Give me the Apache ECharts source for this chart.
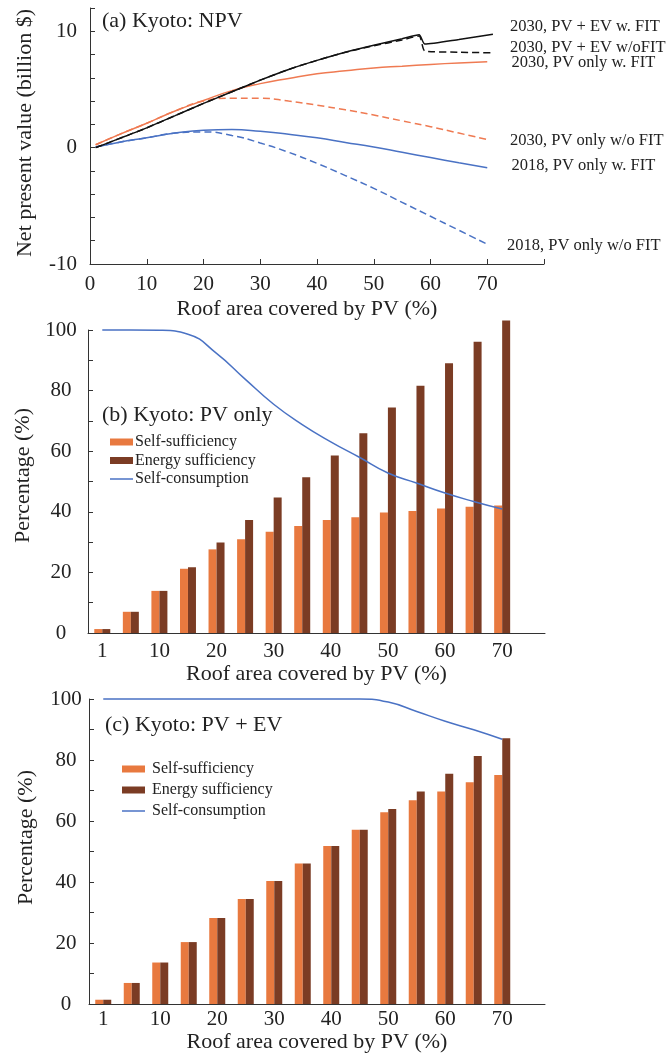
<!DOCTYPE html>
<html>
<head>
<meta charset="utf-8">
<script src="https://cdn.jsdelivr.net/npm/echarts@6/dist/echarts.min.js"></script>
<style>
  html, body { margin: 0; padding: 0; background: #fff; }
  #chart { width: 667px; height: 1061px; }
</style>
</head>
<body>
<div id="chart"></div>
<script>
// ---- (a) Net present value, billion $ ----
const roofPct = [1, 5, 10, 15, 20, 25, 30, 35, 40, 45, 50, 55, 60, 65, 70];
const pvOnlyFit2030   = [0.25, 1.1, 2.1, 3.15, 4.05, 4.9, 5.5, 5.95, 6.35, 6.6, 6.85, 7.0, 7.15, 7.28, 7.38];
const pvOnlyNoFit2030 = [0.25, 1.1, 2.1, 3.15, 4.0, 4.25, 4.25, 4.0, 3.65, 3.25, 2.8, 2.3, 1.8, 1.25, 0.7];
const pvOnlyFit2018   = [0.05, 0.45, 0.85, 1.25, 1.5, 1.55, 1.4, 1.15, 0.85, 0.45, 0.05, -0.4, -0.85, -1.3, -1.72];
const pvOnlyNoFit2018 = [0.05, 0.45, 0.85, 1.25, 1.35, 1.05, 0.4, -0.4, -1.35, -2.4, -3.5, -4.7, -5.9, -7.1, -8.3];
const evRoofPct       = [1, 5, 10, 15, 20, 25, 30, 35, 40, 45, 50, 55, 58, 59, 65, 71];
const pvEvFit2030     = [0, 0.75, 1.7, 2.75, 3.8, 4.8, 5.8, 6.72, 7.5, 8.2, 8.8, 9.35, 9.7, 8.9, 9.3, 9.75];
const pvEvNoFit2030   = [0, 0.75, 1.7, 2.75, 3.8, 4.8, 5.8, 6.72, 7.5, 8.2, 8.75, 9.25, 9.6, 8.3, 8.2, 8.15];
const npvLabels = [
  '2030, PV + EV w. FIT', '2030, PV + EV w/oFIT', '2030, PV only w. FIT',
  '2030, PV only w/o FIT', '2018, PV only w. FIT', '2018, PV only w/o FIT'
];

// ---- (b) PV only, % ----
const barCats = ['1', '5', '10', '15', '20', '25', '30', '35', '40', '45', '50', '55', '60', '65', '70', ''];
const selfSuffPv   = [1.3, 7.0, 13.9, 21.2, 27.6, 30.9, 33.4, 35.3, 37.3, 38.2, 39.8, 40.3, 41.1, 41.7, 42.1];
const energySuffPv = [1.3, 7.0, 13.9, 21.7, 29.9, 37.3, 44.7, 51.4, 58.6, 65.9, 74.4, 81.6, 89.0, 96.1, 103.1];
const selfConsPv   = [100, 100, 99.9, 98.6, 92.3, 83.8, 75.5, 68.8, 63.1, 58, 52.8, 49.5, 46.2, 43.4, 40.9];

// ---- (c) PV + EV, % ----
const selfSuffEv   = [1.4, 6.9, 13.6, 20.3, 28.2, 34.4, 40.3, 46.1, 51.8, 57.1, 62.9, 66.8, 69.7, 72.7, 75.1];
const energySuffEv = [1.4, 6.9, 13.6, 20.3, 28.2, 34.4, 40.3, 46.1, 51.8, 57.1, 63.9, 69.7, 75.5, 81.3, 87.1];
const selfConsEv   = [100, 100, 100, 100, 100, 100, 100, 100, 100, 100, 99.0, 95.9, 92.7, 89.9, 86.8];

const SERIF = "'Liberation Serif', 'Times New Roman', 'DejaVu Serif', serif";
const INK = '#222';
const AXIS = '#333';
const ORANGE_LINE = '#EF7A52';
const BLUE_LINE = '#4A72C4';
const ORANGE_BAR = '#E8793F';
const BROWN_BAR = '#7B3C24';

const pairs = (xs, ys) => xs.map((x, i) => [x, ys[i]]);

const axisLineStyle = { show: true, onZero: false, lineStyle: { color: AXIS, width: 1 } };
const tickStyle = { show: true, inside: true, length: 5, lineStyle: { color: AXIS, width: 1 } };
const tickText = { color: INK, fontFamily: SERIF, fontSize: 21 };
const nameText = { color: INK, fontFamily: SERIF, fontSize: 22 };

function catAxis(gridIndex, labelMargin, nameGap) {
  return {
    type: 'category', gridIndex, data: barCats, boundaryGap: true,
    axisLine: axisLineStyle, axisTick: { show: false },
    axisLabel: Object.assign({
      interval: 0, margin: labelMargin,
      formatter: v => (v === '1' || (v !== '' && Number(v) % 10 === 0)) ? v : ''
    }, tickText),
    splitLine: { show: false },
    name: 'Roof area covered by PV (%)', nameLocation: 'middle', nameGap,
    nameTextStyle: nameText
  };
}

function pctAxis(gridIndex, labelMargin, namePad) {
  return {
    type: 'value', gridIndex, min: 0, max: 100, interval: 10,
    axisLine: axisLineStyle, axisTick: tickStyle,
    axisLabel: Object.assign({
      align: 'center', margin: labelMargin,
      formatter: v => (v % 20 === 0 ? String(v) : '')
    }, tickText),
    splitLine: { show: false },
    name: 'Percentage (%)', nameLocation: 'middle', nameGap: 52,
    nameTextStyle: Object.assign({ padding: [0, 0, 0, namePad] }, nameText)
  };
}

function barSeries(name, color, data, axisIdx) {
  return {
    type: 'bar', name, data, xAxisIndex: axisIdx, yAxisIndex: axisIdx,
    barWidth: 8, barGap: '0%', clip: false,
    itemStyle: { color }
  };
}

function lineSeries(name, color, data, axisIdx, dashed, smooth) {
  return {
    type: 'line', name, data, xAxisIndex: axisIdx, yAxisIndex: axisIdx,
    symbol: 'none', showSymbol: false, smooth: smooth == null ? 0.5 : smooth,
    lineStyle: { color, width: 1.5, type: dashed ? [7, 4] : 'solid' },
    itemStyle: { color }, clip: false
  };
}

// thin horizontal stroke used as the legend key of the line series
const LINE_ICON = 'path://M0,0 L46,0 L46,3 L0,3 Z';

function legendAt(left, top, gap, textShift) {
  return {
    orient: 'vertical', left, top, itemWidth: 23, itemHeight: 7, itemGap: gap,
    padding: 0, selectedMode: false,
    textStyle: { color: INK, fontFamily: SERIF, fontSize: 16, padding: [0, 0, 0, textShift] },
    data: [
      { name: 'Self-sufficiency', icon: 'rect' },
      { name: 'Energy sufficiency', icon: 'rect' },
      { name: 'Self-consumption', icon: LINE_ICON, itemStyle: { color: BLUE_LINE } }
    ]
  };
}

// right-hand labels for the NPV curves
const labelRows = [
  [510, 27], [510, 47.5], [511.5, 63], [510, 141], [511.5, 166], [507, 246]
];
const npvTexts = npvLabels.map((t, i) => ({
  type: 'text', x: labelRows[i][0], y: labelRows[i][1], silent: true,
  style: {
    text: t, fill: INK, font: '16.5px ' + SERIF,
    verticalAlign: 'middle', textVerticalAlign: 'middle'
  }
}));

const chart = echarts.init(document.getElementById('chart'), null, { renderer: 'canvas' });

chart.setOption({
  backgroundColor: '#fff',
  animation: false,
  textStyle: { fontFamily: SERIF },
  title: [
    { text: '(a) Kyoto: NPV', left: 102, top: 10, padding: 0,
      textStyle: { color: INK, fontFamily: SERIF, fontSize: 22, fontWeight: 'normal' } },
    { text: '(b) Kyoto: PV only', left: 102, top: 404, padding: 0,
      textStyle: { color: INK, fontFamily: SERIF, fontSize: 22, fontWeight: 'normal' } },
    { text: '(c) Kyoto: PV + EV', left: 105, top: 714, padding: 0,
      textStyle: { color: INK, fontFamily: SERIF, fontSize: 22, fontWeight: 'normal' } }
  ],
  legend: [
    legendAt(110, 434, 2.5, -3),
    legendAt(122, 761, 5, 2)
  ],
  grid: [
    { left: 90, top: 8, width: 454, height: 256, containLabel: false, outerBoundsMode: 'none' },
    { left: 88, top: 330, width: 457, height: 303, containLabel: false, outerBoundsMode: 'none' },
    { left: 89, top: 699, width: 456, height: 305, containLabel: false, outerBoundsMode: 'none' }
  ],
  xAxis: [
    {
      type: 'value', gridIndex: 0, min: 0, max: 80, interval: 10,
      axisLine: axisLineStyle, axisTick: tickStyle,
      axisLabel: Object.assign({ margin: 10, formatter: v => (v < 80 ? String(v) : '') }, tickText),
      splitLine: { show: false },
      name: 'Roof area covered by PV (%)', nameLocation: 'middle', nameGap: 34,
      nameTextStyle: Object.assign({ padding: [0, 20, 0, 0] }, nameText)
    },
    catAxis(1, 8, 26),
    catAxis(2, 5, 25)
  ],
  yAxis: [
    {
      type: 'value', gridIndex: 0, min: -10, max: 12, interval: 2,
      axisLine: axisLineStyle, axisTick: tickStyle,
      axisLabel: Object.assign({
        align: 'right', margin: 13,
        formatter: v => (v % 10 === 0 ? String(v) : '')
      }, tickText),
      splitLine: { show: false },
      name: 'Net present value (billion $)', nameLocation: 'middle', nameGap: 54,
      nameTextStyle: Object.assign({ padding: [0, 0, 0, 6] }, nameText)
    },
    pctAxis(1, 27, 12),
    pctAxis(2, 23, 28)
  ],
  series: [
    lineSeries('2018, PV only w/o FIT', BLUE_LINE, pairs(roofPct, pvOnlyNoFit2018), 0, true),
    lineSeries('2018, PV only w. FIT', BLUE_LINE, pairs(roofPct, pvOnlyFit2018), 0, false),
    lineSeries('2030, PV only w/o FIT', ORANGE_LINE, pairs(roofPct, pvOnlyNoFit2030), 0, true),
    lineSeries('2030, PV only w. FIT', ORANGE_LINE, pairs(roofPct, pvOnlyFit2030), 0, false),
    lineSeries('2030, PV + EV w/oFIT', '#111', pairs(evRoofPct, pvEvNoFit2030), 0, true, 0.2),
    lineSeries('2030, PV + EV w. FIT', '#111', pairs(evRoofPct, pvEvFit2030), 0, false, 0.2),

    barSeries('Self-sufficiency', ORANGE_BAR, selfSuffPv, 1),
    barSeries('Energy sufficiency', BROWN_BAR, energySuffPv, 1),
    lineSeries('Self-consumption', BLUE_LINE, selfConsPv, 1, false),

    barSeries('Self-sufficiency', ORANGE_BAR, selfSuffEv, 2),
    barSeries('Energy sufficiency', BROWN_BAR, energySuffEv, 2),
    lineSeries('Self-consumption', BLUE_LINE, selfConsEv, 2, false)
  ],
  graphic: npvTexts
});
</script>
</body>
</html>
